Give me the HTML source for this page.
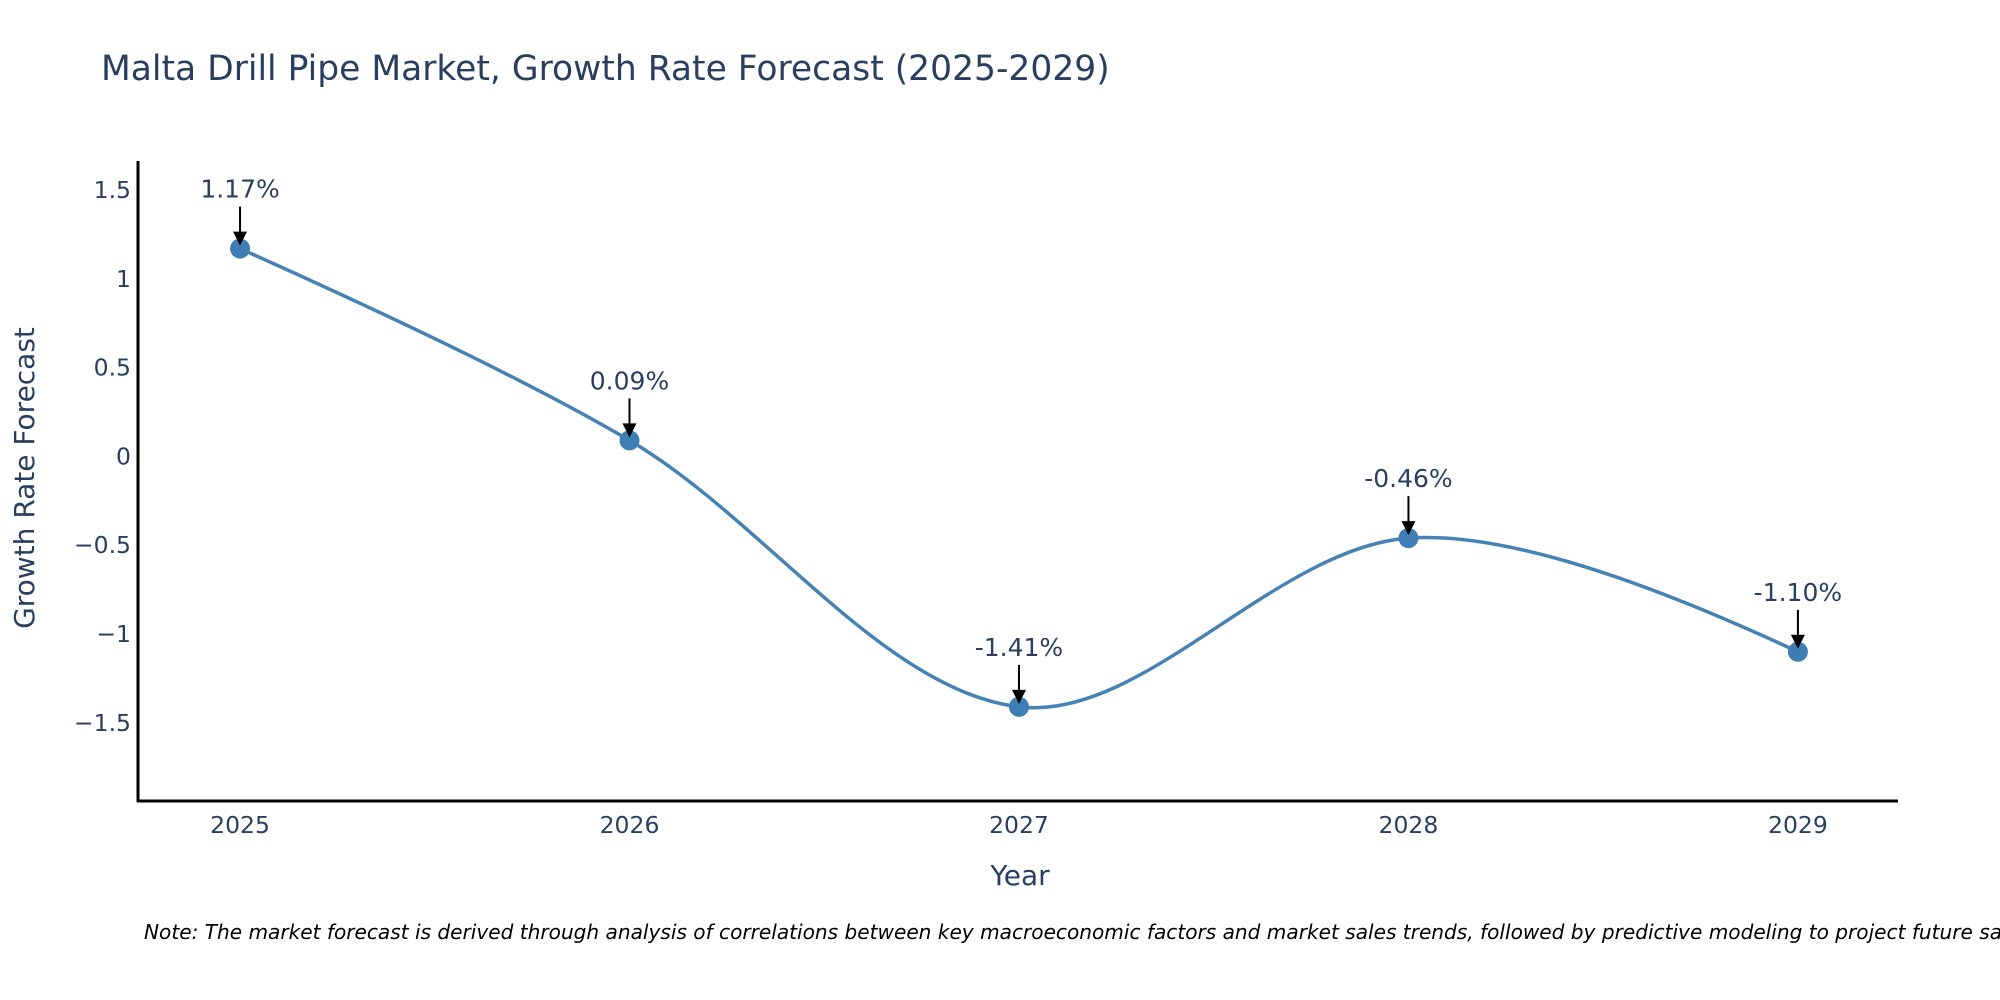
<!DOCTYPE html>
<html><head><meta charset="utf-8"><style>
html,body{margin:0;padding:0;background:#fff;}
svg{display:block;font-family:"DejaVu Sans","Liberation Sans",sans-serif;}
</style></head><body>
<svg id="chart" width="2000" height="1000" viewBox="0 0 2000 1000">
<text x="101" y="80" font-size="34.5" fill="#2a3f5f">Malta Drill Pipe Market, Growth Rate Forecast (2025-2029)</text>
<g id="yticks"></g>
<g id="xticks"></g>
<path id="line" fill="none" stroke="#4682b4" stroke-width="3.5"></path>
<g id="points"></g>
<g id="annots"></g>
<line x1="138" y1="161" x2="138" y2="802" stroke="#000" stroke-width="3"/>
<line x1="137" y1="801" x2="1898" y2="801" stroke="#000" stroke-width="3"/>
<text transform="translate(34,478) rotate(-90)" text-anchor="middle" font-size="28" fill="#2a3f5f">Growth Rate Forecast</text>
<text x="1020" y="885" text-anchor="middle" font-size="28" fill="#2a3f5f">Year</text>
<text x="144" y="939" font-size="20.1" font-style="italic" fill="#000">Note: The market forecast is derived through analysis of correlations between key macroeconomic factors and market sales trends, followed by predictive modeling to project future sales.</text>
</svg>
<script>
const years = [2025, 2026, 2027, 2028, 2029];
const growth = [1.17, 0.09, -1.41, -0.46, -1.10];
const labels = ["1.17%", "0.09%", "-1.41%", "-0.46%", "-1.10%"];
const yTickVals = [1.5, 1, 0.5, 0, -0.5, -1, -1.5];
const yTickLabels = ["1.5", "1", "0.5", "0", "\u22120.5", "\u22121", "\u22121.5"];

const NS = "http://www.w3.org/2000/svg";
const X0 = 138, X1 = 1898, Y0 = 161, Y1 = 801;
const xMin = 2024.738, xMax = 2029.257, yMin = -1.94, yMax = 1.663;
function xs(v){ return X0 + (v - xMin) / (xMax - xMin) * (X1 - X0); }
function ys(v){ return Y1 - (v - yMin) / (yMax - yMin) * (Y1 - Y0); }
function mk(tag, attrs, parent){ const e = document.createElementNS(NS, tag); for (const k in attrs) e.setAttribute(k, attrs[k]); parent.appendChild(e); return e; }

const yt = document.getElementById('yticks');
yTickVals.forEach((v, i) => {
  const t = mk('text', {x: 131, y: ys(v) + 8, 'text-anchor': 'end', 'font-size': 23.5, fill: '#2a3f5f'}, yt);
  
  
  t.textContent = yTickLabels[i];
});
const xt = document.getElementById('xticks');
years.forEach(v => {
  const t = mk('text', {x: xs(v), y: 833, 'text-anchor': 'middle', 'font-size': 23.5, fill: '#2a3f5f'}, xt);
  
  
  t.textContent = String(v);
});

const P = years.map((y, i) => [xs(y), ys(growth[i])]);
const ctrl = [];
for (let i = 1; i < P.length - 1; i++) {
  const p0 = P[i-1], p1 = P[i], p2 = P[i+1];
  const d1 = Math.hypot(p1[0]-p0[0], p1[1]-p0[1]), d2 = Math.hypot(p2[0]-p1[0], p2[1]-p1[1]);
  const dx = (p2[0]-p0[0]), dy = (p2[1]-p0[1]);
  const a = d1 / (3 * (d1 + d2)), b = d2 / (3 * (d1 + d2));
  ctrl.push([[p1[0] - dx*a, p1[1] - dy*a], [p1[0] + dx*b, p1[1] + dy*b]]);
}
let d = 'M' + P[0][0] + ',' + P[0][1] + 'Q' + ctrl[0][0][0] + ',' + ctrl[0][0][1] + ' ' + P[1][0] + ',' + P[1][1];
for (let i = 1; i < P.length - 2; i++) {
  d += 'C' + ctrl[i-1][1][0] + ',' + ctrl[i-1][1][1] + ' ' + ctrl[i][0][0] + ',' + ctrl[i][0][1] + ' ' + P[i+1][0] + ',' + P[i+1][1];
}
const last = ctrl[ctrl.length-1][1], n = P.length - 1;
d += 'Q' + last[0] + ',' + last[1] + ' ' + P[n][0] + ',' + P[n][1];
document.getElementById('line').setAttribute('d', d);

const pts = document.getElementById('points');
const an = document.getElementById('annots');
P.forEach((p, i) => {
  const c = mk('circle', {cx: p[0], cy: p[1], r: 10, fill: '#3f7db5'}, pts);
  
  
  const l = mk('line', {x1: p[0], y1: p[1] - 42, x2: p[0], y2: p[1] - 14, stroke: '#000', 'stroke-width': 2}, an);
  
  
  const h = mk('path', {d: `M${p[0]-7},${p[1]-17} L${p[0]+7},${p[1]-17} L${p[0]},${p[1]-3} Z`, fill: '#000'}, an);
  
  
  const t = mk('text', {x: p[0], y: p[1] - 51, 'text-anchor': 'middle', 'font-size': 25, fill: '#2a3f5f'}, an);
  
  
  t.textContent = labels[i];
});
</script>
</body></html>
